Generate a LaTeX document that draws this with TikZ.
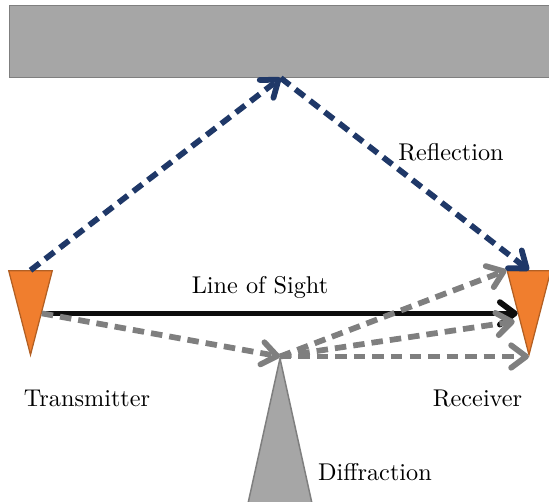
\documentclass[tikz,border=0pt]{standalone}
\usepackage{tikz}
\usetikzlibrary{positioning}
\usetikzlibrary{calc}
\usetikzlibrary{arrows.meta}
\usetikzlibrary{shapes.geometric}
\definecolor{antorange}{RGB}{240,126,46}
\definecolor{antedge}{RGB}{178,95,35}
\definecolor{wallgray}{RGB}{166,166,166}
\definecolor{edgegray}{RGB}{127,127,127}
\definecolor{navy}{RGB}{31,56,104}

\begin{document}
\begin{tikzpicture}[
    x=0.4pt, y=-0.4pt,
    >={Straight Barb[round,length=6pt,width=9pt]},
    % node styles
    wall/.style = {
      rectangle,
      draw=edgegray,
      fill=wallgray,
      line width=0.6pt,
      inner sep=0pt,
      minimum width=216.8pt,
      minimum height=28.8pt
    },
    antenna/.style = {
      isosceles triangle,
      isosceles triangle stretches,
      shape border rotate=-90,
      draw=antedge,
      fill=antorange,
      line width=0.5pt,
      inner sep=0pt,
      minimum width=17.4pt,
      minimum height=33.6pt
    },
    peak/.style = {
      isosceles triangle,
      isosceles triangle stretches,
      shape border rotate=90,
      draw=edgegray,
      fill=wallgray,
      line width=0.6pt,
      inner sep=0pt,
      minimum width=25.6pt,
      minimum height=58pt
    },
    lbl/.style = {font=\fontsize{9.7}{11}\selectfont, inner sep=0pt},
    % arrow styles
    los/.style = {->, line width=2.3pt, draw=black!95},
    bounce/.style = {->, line width=2.3pt, draw=navy, dash pattern=on 4.6pt off 2.8pt},
    diffr/.style = {->, line width=2.3pt, draw=edgegray, dash pattern=on 4.6pt off 2.8pt}
  ]
  \useasboundingbox (0,0) rectangle (549,502);

  % --- Nodes
  \node[wall, anchor=north west] (wall) at (9,4.5) {};
  \node[antenna, anchor=apex] (tx) at (30.5,356.5) {};
  \node[antenna, anchor=apex] (rx) at (529,356.5) {};
  \node[peak, anchor=apex] (tip) at (280,356.5) {};
  \coordinate (txTop) at ($(tx.left corner)!0.5!(tx.right corner)$);
  \coordinate (rxTop) at ($(rx.left corner)!0.5!(rx.right corner)$);
  \coordinate (rxIn) at ($(rx.right side)+(-3,8)$);

  \node[lbl] (lTx) at (87,398.5) {Transmitter};
  \node[lbl] (lRx) at (477.5,398.5) {Receiver};
  \node[lbl] (lLos) at (260,287.5) {Line of Sight};
  \node[lbl] (lRefl) at (451,152.5) {Reflection};
  \node[lbl] (lDiff) at (375,472.5) {Diffraction};

  % --- Arrows
  \draw[los] (tx.left side) -- (rx.right side);
  \draw[bounce] (txTop) -- (wall.south);
  \draw[bounce] (wall.south) -- (rxTop);
  \draw[diffr] (tx.left side) -- (tip.apex);
  \draw[diffr] (tip.apex) -- (rx.right corner);
  \draw[diffr] (tip.apex) -- (rxIn);
  \draw[diffr] (tip.apex) -- (rx.apex);
\end{tikzpicture}
\end{document}
